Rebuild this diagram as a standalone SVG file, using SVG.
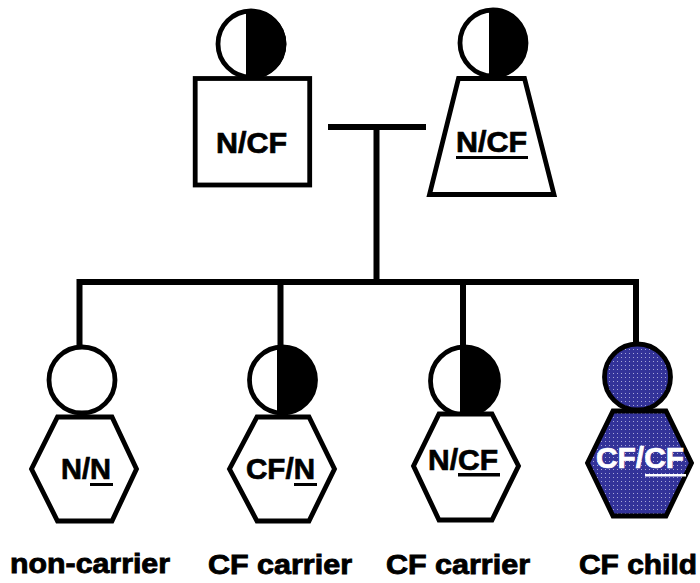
<svg xmlns="http://www.w3.org/2000/svg" width="700" height="583" viewBox="0 0 700 583">
<style>
.s{fill:#fff;stroke:#000;stroke-width:4.8;stroke-linejoin:miter}
.b{fill:#000}
.a{fill:url(#dots);stroke:#000;stroke-width:4.8;stroke-linejoin:miter}
.c{fill:none;stroke:#000;stroke-width:6}
text{font-family:"Liberation Sans",Arial,sans-serif;font-weight:700;font-size:30px;fill:#000;stroke:#000;stroke-width:.7}
.l{font-size:28.5px;stroke-width:.9}
.w{fill:#fff;stroke:#fff}
</style>
<defs>
<pattern id="dots" width="4" height="4" patternUnits="userSpaceOnUse">
<rect width="4" height="4" fill="#333399"/>
<rect x="1" y="1" width="1" height="1" fill="#a8a8d8"/>
</pattern>
</defs>
<rect width="700" height="583" fill="#fff"/>
<g id="connectors">
<path class="c" d="M328 127H426M376.500 127V282M76.500 282H639M79.500 282V348M280.500 282V348M463 282V348M636 282V345"/>
</g>
<g id="father">
<circle class="s" cx="251" cy="44" r="33"/>
<path class="b" d="M246 10.600A34 34 0 1 1 246 77.400Z"/>
<rect class="s" x="195.200" y="78.500" width="114.500" height="106.500"/>
<text x="216" y="153" textLength="71" lengthAdjust="spacingAndGlyphs">N/CF</text>
</g>
<g id="mother">
<circle class="s" cx="493" cy="43" r="33"/>
<path class="b" d="M489 9.300A34 34 0 1 1 489 76.700Z"/>
<path class="s" d="M458.500 78.500H524.500L554 194.500H429.500Z"/>
<text x="456" y="152" textLength="71" lengthAdjust="spacingAndGlyphs">N/CF</text>
<rect class="b" x="456" y="156" width="72" height="3"/>
</g>
<g id="child-1">
<circle class="s" cx="82" cy="380" r="33"/>
<path class="s" d="M57.500 417H112L136.500 469L112 521H57.500L31.500 469Z"/>
<text x="61" y="479" textLength="50" lengthAdjust="spacingAndGlyphs">N/N</text>
<rect class="b" x="90" y="483" width="23" height="3"/>
<text class="l" x="10" y="573" textLength="160" lengthAdjust="spacingAndGlyphs">non-carrier</text>
</g>
<g id="child-2">
<circle class="s" cx="282.500" cy="380" r="33"/>
<path class="b" d="M277 346.400A34 34 0 1 1 277 413.600Z"/>
<path class="s" d="M257 417H309L334.500 469L309 521H257L229.500 469Z"/>
<text x="246" y="479" textLength="69" lengthAdjust="spacingAndGlyphs">CF/N</text>
<rect class="b" x="294" y="483" width="23" height="3"/>
<text class="l" x="208" y="574" textLength="144" lengthAdjust="spacingAndGlyphs">CF carrier</text>
</g>
<g id="child-3">
<circle class="s" cx="464.500" cy="381" r="34"/>
<path class="b" d="M460 346.300A35 35 0 1 1 460 415.700Z"/>
<path class="s" d="M439 414H492L518.500 466L492 520H439L413.500 466Z"/>
<text x="428" y="470" textLength="70" lengthAdjust="spacingAndGlyphs">N/CF</text>
<rect class="b" x="458" y="473" width="42" height="3.500"/>
<text class="l" x="386" y="574" textLength="144" lengthAdjust="spacingAndGlyphs">CF carrier</text>
</g>
<g id="child-4">
<path class="a" d="M613 411H666L691.500 463L666 516H613L587.500 463Z"/>
<circle class="a" cx="637.500" cy="377" r="33"/>
<text class="w" x="596" y="468" textLength="88" lengthAdjust="spacingAndGlyphs">CF/CF</text>
<rect fill="#fff" x="645" y="474" width="41" height="2.500"/>
<text class="l" x="579" y="574" textLength="118" lengthAdjust="spacingAndGlyphs">CF child</text>
</g>
</svg>
